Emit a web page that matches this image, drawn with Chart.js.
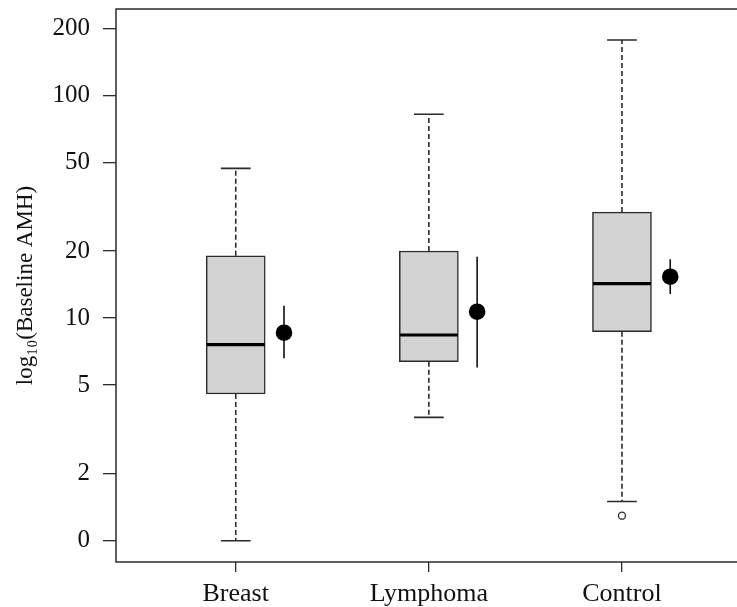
<!DOCTYPE html>
<html>
<head>
<meta charset="utf-8">
<script src="https://cdn.jsdelivr.net/npm/chart.js@4"></script>
<style>
  html, body { margin: 0; padding: 0; background: #ffffff; overflow: hidden; }
  #wrap { position: relative; width: 750px; height: 607px; }
</style>
</head>
<body>
<div id="wrap"><canvas id="c"></canvas></div>
<script>
// ---- data ----
const categories   = ['Breast', 'Lymphoma', 'Control'];
const whiskerLow   = [1.00, 3.58, 1.50];
const q1           = [4.56, 6.36, 8.68];
const median       = [7.59, 8.39, 14.26];
const q3           = [19.04, 20.0, 29.9];
const whiskerHigh  = [47.0, 82.2, 177.2];
const meanVal      = [8.59, 10.67, 15.33];
const meanLow      = [6.59, 6.00, 12.82];
const meanHigh     = [11.36, 18.85, 18.34];
const outliers     = [[], [], [1.295]];
const yTickValues  = [1, 2, 5, 10, 20, 50, 100, 200];
const yTickLabels  = ['0', '2', '5', '10', '20', '50', '100', '200'];

// ---- layout constants (in x-axis units) ----
const BOX_HALF = 0.15, CAP_HALF = 0.077, MEAN_OFFSET = 0.25;
const pos = categories.map((_, i) => i + 1);

function segments(list) {
  const pts = [];
  list.forEach(([x1, y1, x2, y2]) => {
    pts.push({x: x1, y: y1}, {x: x2, y: y2}, {x: x2, y: null});
  });
  return pts;
}

const LINE = '#2b2b2b';
const FONT = "'Liberation Serif', 'Times New Roman', serif";

const whiskerPts = segments(pos.flatMap((p, i) => [
  [p, q3[i], p, whiskerHigh[i]],
  [p, q1[i], p, whiskerLow[i]]
]));
const capPts = segments(pos.flatMap((p, i) => [
  [p - CAP_HALF, whiskerHigh[i], p + CAP_HALF, whiskerHigh[i]],
  [p - CAP_HALF, whiskerLow[i], p + CAP_HALF, whiskerLow[i]]
]));
const medianPts = segments(pos.map((p, i) => [p - BOX_HALF, median[i], p + BOX_HALF, median[i]]));
const errPts = segments(pos.map((p, i) => [p + MEAN_OFFSET, meanLow[i], p + MEAN_OFFSET, meanHigh[i]]));
const meanPts = pos.map((p, i) => ({x: p + MEAN_OFFSET, y: meanVal[i]}));
const outlierPts = pos.flatMap((p, i) => outliers[i].map(v => ({x: p, y: v})));
const boxData = pos.map((p, i) => ({x: p, y: [q1[i], q3[i]]}));

const framePlugin = {
  id: 'frame',
  afterDatasetsDraw(chart) {
    const {ctx, chartArea: a} = chart;
    ctx.save();
    ctx.strokeStyle = LINE;
    ctx.lineWidth = 1.5;
    ctx.strokeRect(a.left, a.top, a.right - a.left, a.bottom - a.top);
    ctx.restore();
  }
};

function noPad(s) { s.paddingTop = 0; s.paddingBottom = 0; s.paddingLeft = 0; s.paddingRight = 0; }

new Chart(document.getElementById('c'), {
  type: 'scatter',
  data: {
    datasets: [
      { type: 'scatter', data: whiskerPts, showLine: true, borderColor: LINE, borderWidth: 1.6,
        borderDash: [5, 3], pointRadius: 0, order: 6 },
      { type: 'bar', data: boxData, backgroundColor: '#d3d3d3', borderColor: LINE, borderWidth: 1.5,
        borderSkipped: false, barThickness: 59, grouped: false, order: 5 },
      { type: 'scatter', data: medianPts, showLine: true, borderColor: '#000000', borderWidth: 3.2,
        pointRadius: 0, order: 4 },
      { type: 'scatter', data: capPts, showLine: true, borderColor: LINE, borderWidth: 1.6,
        pointRadius: 0, order: 4 },
      { type: 'scatter', data: errPts, showLine: true, borderColor: '#111111', borderWidth: 1.6,
        pointRadius: 0, order: 3 },
      { type: 'scatter', data: meanPts, pointRadius: 8.3, pointBackgroundColor: '#000000',
        pointBorderColor: '#000000', borderWidth: 0, order: 2 },
      { type: 'scatter', data: outlierPts, pointRadius: 3.5, pointBackgroundColor: '#ffffff',
        pointBorderColor: LINE, pointBorderWidth: 1.3, order: 1 }
    ]
  },
  options: {
    responsive: true,
    maintainAspectRatio: false,
    animation: false,
    layout: { padding: { top: 9, right: 3, left: 0, bottom: 0 } },
    plugins: { legend: { display: false }, tooltip: { enabled: false } },
    scales: {
      x: {
        type: 'linear',
        min: 0.38, max: 3.62,
        offset: false,
        afterBuildTicks: s => { s.ticks = pos.map(v => ({value: v})); },
        afterFit: s => { s.height = 45; noPad(s); },
        ticks: {
          autoSkip: false,
          callback: (v, i) => categories[i],
          font: { family: FONT, size: 26 },
          color: '#111111',
          padding: 7,
          maxRotation: 0
        },
        grid: { drawOnChartArea: false, drawTicks: true, tickLength: 10, color: LINE, lineWidth: 1.3, offset: false },
        border: { display: false }
      },
      y: {
        type: 'logarithmic',
        min: 0.8024, max: 244.1,
        bounds: 'data',
        afterBuildTicks: s => { s.ticks = yTickValues.map(v => ({value: v})); },
        afterFit: s => { s.width = 116; noPad(s); },
        ticks: {
          autoSkip: false,
          callback: (v, i) => yTickLabels[i],
          font: { family: FONT, size: 25 },
          color: '#111111',
          padding: 13
        },
        grid: { drawOnChartArea: false, drawTicks: true, tickLength: 13, color: LINE, lineWidth: 1.3 },
        border: { display: false },
        title: {
          display: true,
          text: 'log\u2081\u2080(Baseline AMH)',
          font: { family: FONT, size: 23 },
          color: '#111111',
          padding: { top: 12, bottom: 0 }
        }
      }
    }
  },
  plugins: [framePlugin]
});
</script>
</body>
</html>
